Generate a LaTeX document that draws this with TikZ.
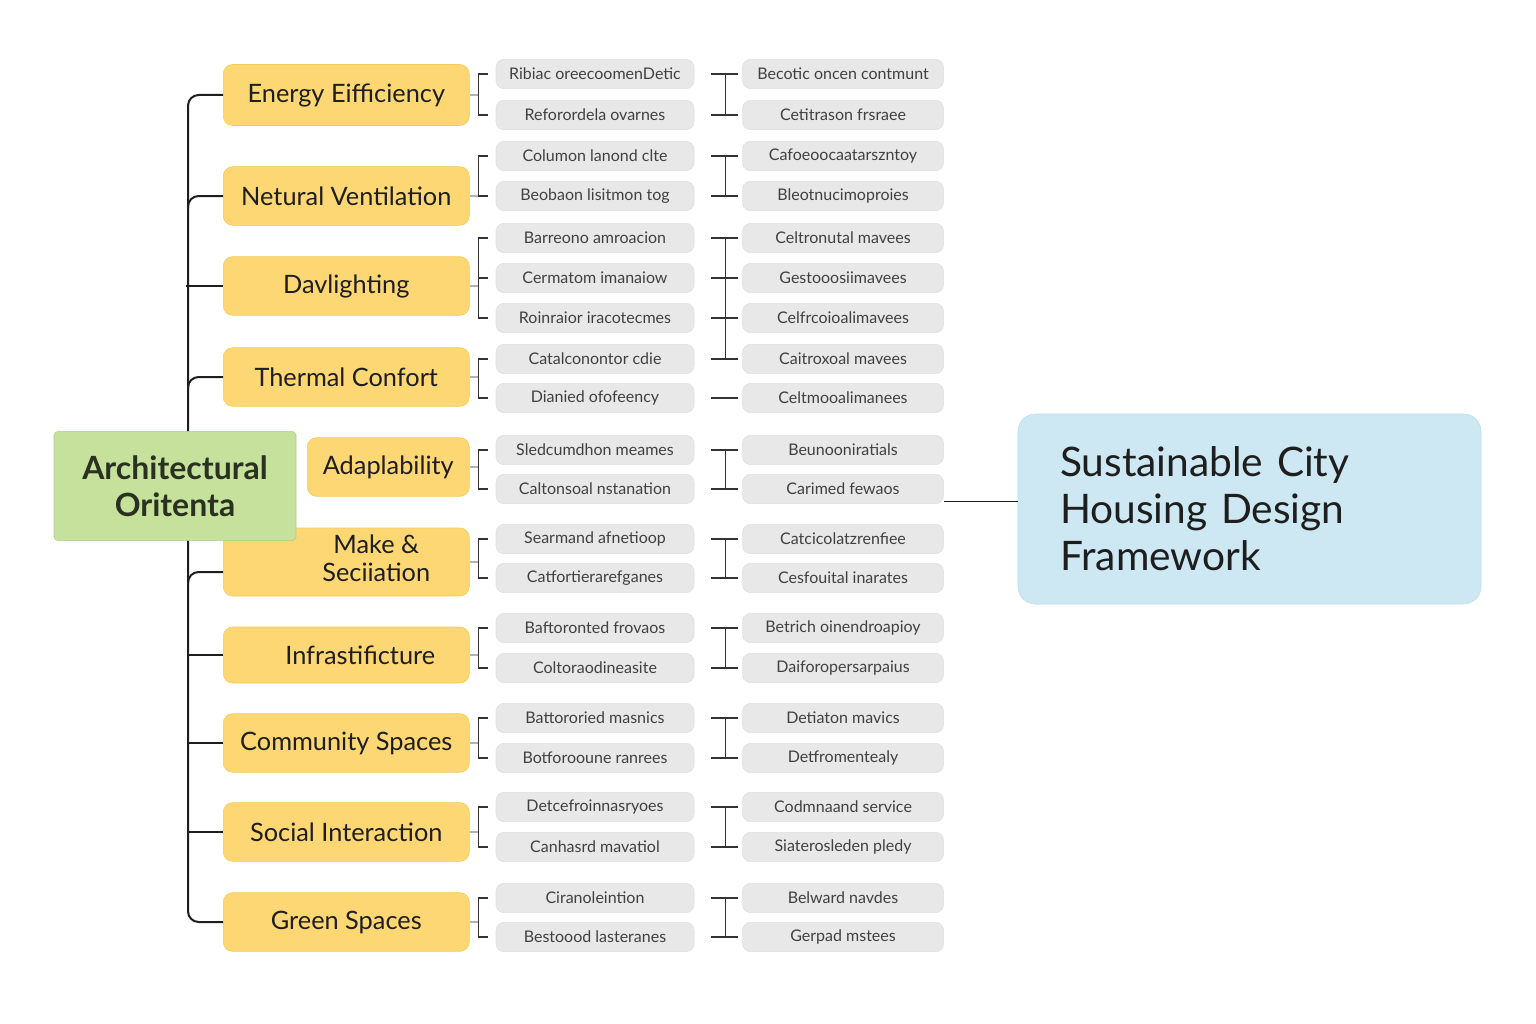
\documentclass[tikz,border=0pt]{standalone}
\usepackage{fontspec}
\setmainfont{Lato}
\usetikzlibrary{positioning, calc}
\definecolor{sunny}{HTML}{FDD774}
\definecolor{sunnyline}{HTML}{F5CB55}
\definecolor{leafgrey}{HTML}{E8E8E8}
\definecolor{leafline}{HTML}{DEDEDE}
\definecolor{sage}{HTML}{C6E19C}
\definecolor{sageline}{HTML}{A7D18A}
\definecolor{sky}{HTML}{CDE8F3}
\definecolor{skyline}{HTML}{B6DDEE}
\definecolor{ink}{HTML}{1E1E1E}
\definecolor{olive}{HTML}{2A3120}
\tikzset{
  cat/.style={rectangle, rounded corners=7pt, draw=sunnyline, thin, fill=sunny,
    minimum width=184.5pt, minimum height=44pt, align=center, text=ink,
    font=\fontsize{19}{22}\selectfont},
  leaf/.style={rectangle, rounded corners=6pt, draw=leafline, fill=leafgrey,
    minimum width=148.5pt, minimum height=22pt, inner sep=1pt, text=black!75,
    font=\fontsize{12}{13}\selectfont},
  leafr/.style={leaf, minimum width=150.75pt},
  root/.style={rectangle, rounded corners=3pt, draw=sageline, fill=sage,
    minimum width=181.5pt, minimum height=82pt, align=center, text=olive,
    font=\bfseries\fontsize{24}{27.75}\selectfont},
  hub/.style={rectangle, rounded corners=13pt, draw=skyline, fill=sky,
    minimum width=347.25pt, minimum height=142.5pt, text width=284pt, inner xsep=31.5pt,
    align=left, text=ink, font=\fontsize{30.5}{35.25}\selectfont},
  trunk/.style={line width=1.5pt, ink, rounded corners=8pt},
  brace/.style={line width=0.9pt, black!80},
  stub/.style={line width=0.8pt, black!30},
  link/.style={line width=0.75pt, ink},
}
\begin{document}
\begin{tikzpicture}[x=0.75pt, y=-0.75pt, node distance=36pt]
\useasboundingbox (0,0) rectangle (1536,1024);
% categories
\node[cat, anchor=west, minimum height=45.75pt] (energy) at (223,95) {Energy Eifficiency};
\node[cat, anchor=west] (vent) at (223,196) {Netural Ventilation};
\node[cat, anchor=west] (day) at (223,286) {Davlighting};
\node[cat, anchor=west] (thermal) at (223,377) {Thermal Confort};
\node[cat, anchor=west, minimum width=121.5pt] (adapt) at (307,467) {Adaplability};
\node[cat, anchor=west, minimum height=51pt] (make) at (223,562)
  {\hspace*{45pt}\begin{tabular}{@{}c@{}}Make \&\\[-1pt]Seciiation\end{tabular}};
\node[cat, anchor=west, minimum height=42pt] (infra) at (223,655) {\hspace*{21pt}Infrastificture};
\node[cat, anchor=west] (comm) at (223,743) {Community Spaces};
\node[cat, anchor=west] (social) at (223,832) {Social Interaction};
\node[cat, anchor=west] (green) at (223,922) {Green Spaces};

% leaves
\node[leaf] (en1) at (595,74) {Ribiac oreecoomenDetic};
\node[leafr, right=of en1] (en1b) {Becotic oncen contmunt};
\node[leaf] (en2) at (595,115) {Reforordela ovarnes};
\node[leafr, right=of en2] (en2b) {Cetitrason frsraee};
\node[leaf] (nv1) at (595,156) {Columon lanond clte};
\node[leafr, right=of nv1] (nv1b) {Cafoeoocaatarszntoy};
\node[leaf] (nv2) at (595,196) {Beobaon lisitmon tog};
\node[leafr, right=of nv2] (nv2b) {Bleotnucimoproies};
\node[leaf] (dl1) at (595,238) {Barreono amroacion};
\node[leafr, right=of dl1] (dl1b) {Celtronutal mavees};
\node[leaf] (dl2) at (595,278) {Cermatom imanaiow};
\node[leafr, right=of dl2] (dl2b) {Gestooosiimavees};
\node[leaf] (dl3) at (595,318) {Roinraior iracotecmes};
\node[leafr, right=of dl3] (dl3b) {Celfrcoioalimavees};
\node[leaf] (tc1) at (595,359) {Catalconontor cdie};
\node[leafr, right=of tc1] (tc1b) {Caitroxoal mavees};
\node[leaf] (tc2) at (595,398) {Dianied ofofeency};
\node[leafr, right=of tc2] (tc2b) {Celtmooalimanees};
\node[leaf] (ad1) at (595,450) {Sledcumdhon meames};
\node[leafr, right=of ad1] (ad1b) {Beunooniratials};
\node[leaf] (ad2) at (595,489) {Caltonsoal nstanation};
\node[leafr, right=of ad2] (ad2b) {Carimed fewaos};
\node[leaf] (ms1) at (595,539) {Searmand afnetioop};
\node[leafr, right=of ms1] (ms1b) {Catcicolatzrenfiee};
\node[leaf] (ms2) at (595,578) {Catfortierarefganes};
\node[leafr, right=of ms2] (ms2b) {Cesfouital inarates};
\node[leaf] (in1) at (595,628) {Baftoronted frovaos};
\node[leafr, right=of in1] (in1b) {Betrich oinendroapioy};
\node[leaf] (in2) at (595,668) {Coltoraodineasite};
\node[leafr, right=of in2] (in2b) {Daiforopersarpaius};
\node[leaf] (cs1) at (595,718) {Battororied masnics};
\node[leafr, right=of cs1] (cs1b) {Detiaton mavics};
\node[leaf] (cs2) at (595,758) {Botforooune ranrees};
\node[leafr, right=of cs2] (cs2b) {Detfromentealy};
\node[leaf] (si1) at (595,807) {Detcefroinnasryoes};
\node[leafr, right=of si1] (si1b) {Codmnaand service};
\node[leaf] (si2) at (595,847) {Canhasrd mavatiol};
\node[leafr, right=of si2] (si2b) {Siaterosleden pledy};
\node[leaf] (gs1) at (595,898) {Ciranoleintion};
\node[leafr, right=of gs1] (gs1b) {Belward navdes};
\node[leaf] (gs2) at (595,937) {Bestoood lasteranes};
\node[leafr, right=of gs2] (gs2b) {Gerpad mstees};

% trunk and branches
\draw[trunk] (energy.west) -- ++(-35,0) |- (green.west);
\draw[trunk] ([xshift=-26.25pt,yshift=-9pt]vent.west) |- (vent.west);
\draw[trunk] (day.west) -- ++(-37,0);
\draw[trunk] ([xshift=-26.25pt,yshift=-9pt]thermal.west) |- (thermal.west);
\draw[trunk] ([xshift=-26.25pt,yshift=-16pt]make.west) |- ([yshift=-7.5pt]make.west);
\draw[trunk] (infra.west) -- ++(-35,0);
\draw[trunk] (comm.west) -- ++(-35,0);
\draw[trunk] (social.west) -- ++(-35,0);

% brackets to first column
\draw[stub] (energy.east) -- ([xshift=-12.75pt]en1.west |- energy.east);
\draw[brace] ([xshift=-6pt]en1.west) -- ++(-6.75pt,0) |- ([xshift=-6pt]en2.west);
\draw[stub] (vent.east) -- ([xshift=-12.75pt]nv1.west |- vent.east);
\draw[brace] ([xshift=-6pt]nv1.west) -- ++(-6.75pt,0) |- ([xshift=-6pt]nv2.west);
\draw[stub] (day.east) -- ([xshift=-12.75pt]dl1.west |- day.east);
\draw[brace] ([xshift=-6pt]dl1.west) -- ++(-6.75pt,0) |- ([xshift=-6pt]dl3.west)
  ([xshift=-6pt]dl2.west) -- ++(-6.75pt,0);
\draw[stub] (thermal.east) -- ([xshift=-12.75pt]tc1.west |- thermal.east);
\draw[brace] ([xshift=-6pt]tc1.west) -- ++(-6.75pt,0) |- ([xshift=-6pt]tc2.west);
\draw[stub] (adapt.east) -- ([xshift=-12.75pt]ad1.west |- adapt.east);
\draw[brace] ([xshift=-6pt]ad1.west) -- ++(-6.75pt,0) |- ([xshift=-6pt]ad2.west);
\draw[stub] (make.east) -- ([xshift=-12.75pt]ms1.west |- make.east);
\draw[brace] ([xshift=-6pt]ms1.west) -- ++(-6.75pt,0) |- ([xshift=-6pt]ms2.west);
\draw[stub] (infra.east) -- ([xshift=-12.75pt]in1.west |- infra.east);
\draw[brace] ([xshift=-6pt]in1.west) -- ++(-6.75pt,0) |- ([xshift=-6pt]in2.west);
\draw[stub] (comm.east) -- ([xshift=-12.75pt]cs1.west |- comm.east);
\draw[brace] ([xshift=-6pt]cs1.west) -- ++(-6.75pt,0) |- ([xshift=-6pt]cs2.west);
\draw[stub] (social.east) -- ([xshift=-12.75pt]si1.west |- social.east);
\draw[brace] ([xshift=-6pt]si1.west) -- ++(-6.75pt,0) |- ([xshift=-6pt]si2.west);
\draw[stub] (green.east) -- ([xshift=-12.75pt]gs1.west |- green.east);
\draw[brace] ([xshift=-6pt]gs1.west) -- ++(-6.75pt,0) |- ([xshift=-6pt]gs2.west);

% joins between the columns
\draw[brace] ([xshift=12.75pt]en1.east) -- ([xshift=-3pt]en1b.west)
  ([xshift=12.75pt]en2.east) -- ([xshift=-3pt]en2b.west)
  ([xshift=23.25pt]en1.east) -- ([xshift=23.25pt]en2.east);
\draw[brace] ([xshift=12.75pt]nv1.east) -- ([xshift=-3pt]nv1b.west)
  ([xshift=12.75pt]nv2.east) -- ([xshift=-3pt]nv2b.west)
  ([xshift=23.25pt]nv1.east) -- ([xshift=23.25pt]nv2.east);
\draw[brace] ([xshift=12.75pt]dl1.east) -- ([xshift=-3pt]dl1b.west)
  ([xshift=12.75pt]dl2.east) -- ([xshift=-3pt]dl2b.west)
  ([xshift=12.75pt]dl3.east) -- ([xshift=-3pt]dl3b.west)
  ([xshift=12.75pt]tc1.east) -- ([xshift=-3pt]tc1b.west)
  ([xshift=23.25pt]dl1.east) -- ([xshift=23.25pt]tc1.east);
\draw[brace] ([xshift=12.75pt]tc2.east) -- ([xshift=-3pt]tc2b.west);
\draw[brace] ([xshift=12.75pt]ad1.east) -- ([xshift=-3pt]ad1b.west)
  ([xshift=12.75pt]ad2.east) -- ([xshift=-3pt]ad2b.west)
  ([xshift=23.25pt]ad1.east) -- ([xshift=23.25pt]ad2.east);
\draw[brace] ([xshift=12.75pt]ms1.east) -- ([xshift=-3pt]ms1b.west)
  ([xshift=12.75pt]ms2.east) -- ([xshift=-3pt]ms2b.west)
  ([xshift=23.25pt]ms1.east) -- ([xshift=23.25pt]ms2.east);
\draw[brace] ([xshift=12.75pt]in1.east) -- ([xshift=-3pt]in1b.west)
  ([xshift=12.75pt]in2.east) -- ([xshift=-3pt]in2b.west)
  ([xshift=23.25pt]in1.east) -- ([xshift=23.25pt]in2.east);
\draw[brace] ([xshift=12.75pt]cs1.east) -- ([xshift=-3pt]cs1b.west)
  ([xshift=12.75pt]cs2.east) -- ([xshift=-3pt]cs2b.west)
  ([xshift=23.25pt]cs1.east) -- ([xshift=23.25pt]cs2.east);
\draw[brace] ([xshift=12.75pt]si1.east) -- ([xshift=-3pt]si1b.west)
  ([xshift=12.75pt]si2.east) -- ([xshift=-3pt]si2b.west)
  ([xshift=23.25pt]si1.east) -- ([xshift=23.25pt]si2.east);
\draw[brace] ([xshift=12.75pt]gs1.east) -- ([xshift=-3pt]gs1b.west)
  ([xshift=12.75pt]gs2.east) -- ([xshift=-3pt]gs2b.west)
  ([xshift=23.25pt]gs1.east) -- ([xshift=23.25pt]gs2.east);

% root on top of the trunk, hub on the right
\node[root] (arch) at (175,486) {Architectural\\Oritenta};
\node[hub] (hub) at (1249.5,509) {Sustainable City\\Housing Design\\Framework};
\draw[link] ([yshift=-9pt]ad2b.east) -- ([yshift=-9pt]ad2b.east -| hub.west);
\end{tikzpicture}
\end{document}
